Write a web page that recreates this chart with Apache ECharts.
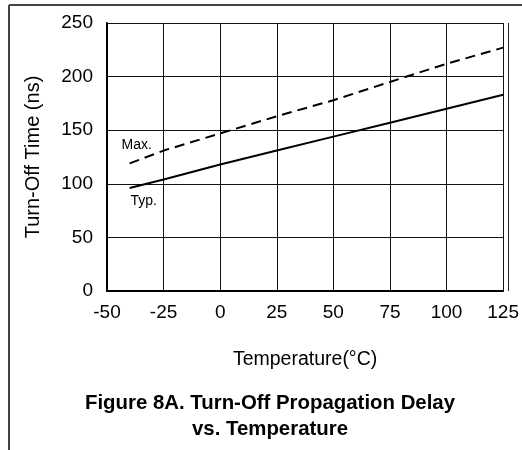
<!DOCTYPE html>
<html>
<head>
<meta charset="utf-8">
<script src="https://cdn.jsdelivr.net/npm/echarts@6/dist/echarts.min.js"></script>
<style>html,body{margin:0;padding:0;background:#fff;}#c{width:522px;height:450px;}</style>
</head>
<body>
<div id="c"></div>
<script>
var temps = [-40, -25, 0, 25, 50, 75, 100, 125];
var maxValues = [119, 131, 147, 163, 178, 195, 212, 227];
var typValues = [96, 104, 118, 131, 144, 157, 170, 183];
var xTicks = [-50, -25, 0, 25, 50, 75, 100, 125];
var yTicks = [0, 50, 100, 150, 200, 250];
var seriesNames = ['Max.', 'Typ.'];

var FONT = 'Liberation Sans, Arial, sans-serif';
function pairs(vals, name, offset) {
  return temps.map(function (t, i) {
    var d = { value: [t, vals[i]] };
    if (i === 0) {
      d.label = { show: true, formatter: name, position: 'inside', offset: offset,
        color: '#000', fontSize: 14, fontFamily: FONT };
    }
    return d;
  });
}
var chart = echarts.init(document.getElementById('c'), null, { renderer: 'canvas' });
chart.setOption({
  animation: false,
  backgroundColor: '#fff',
  title: {
    text: 'Figure 8A. Turn-Off Propagation Delay\nvs. Temperature',
    left: 265, top: 385, textAlign: 'center',
    textStyle: { fontFamily: FONT, fontWeight: 'bold', fontSize: 20.4, lineHeight: 26, color: '#000' }
  },
  grid: { left: 107, right: 14, top: 23, bottom: 159, containLabel: false },
  xAxis: {
    type: 'value', min: xTicks[0], max: xTicks[xTicks.length - 1], interval: 25,
    name: 'Temperature(\u00B0C)', nameLocation: 'middle', nameGap: 59,
    nameTextStyle: { fontFamily: FONT, fontSize: 19.5, color: '#000' },
    axisLine: { show: true, onZero: false, lineStyle: { color: '#000', width: 2 } },
    axisTick: { show: false },
    axisLabel: { margin: 12, fontFamily: FONT, fontSize: 19, color: '#000', showMaxLabel: true, showMinLabel: true },
    splitLine: { show: true, lineStyle: { color: '#111', width: 1 } }
  },
  yAxis: {
    type: 'value', min: yTicks[0], max: yTicks[yTicks.length - 1], interval: 50,
    name: 'Turn-Off Time (ns)', nameLocation: 'middle', nameGap: 64,
    nameTextStyle: { fontFamily: FONT, fontSize: 20, color: '#000' },
    axisLine: { show: true, onZero: false, lineStyle: { color: '#000', width: 2 } },
    axisTick: { show: false },
    axisLabel: { margin: 14, fontFamily: FONT, fontSize: 19, color: '#000' },
    splitLine: { show: true, lineStyle: { color: '#111', width: 1 } }
  },
  graphic: [
    { type: 'line', shape: { x1: 9, y1: 5, x2: 522, y2: 5 }, style: { stroke: '#444', lineWidth: 2 } },
    { type: 'line', shape: { x1: 9, y1: 5, x2: 9, y2: 450 }, style: { stroke: '#444', lineWidth: 2 } },
    { type: 'line', shape: { x1: 508.5, y1: 23, x2: 508.5, y2: 291 }, style: { stroke: '#222', lineWidth: 1 } }
  ],
  series: [
    {
      name: seriesNames[0], type: 'line', data: pairs(maxValues, seriesNames[0], [7, -18]),
      showSymbol: true, symbol: 'circle', symbolSize: 0, smooth: false,
      itemStyle: { color: '#000' },
      lineStyle: { color: '#000', width: 2, type: [10, 6] }, z: 5
    },
    {
      name: seriesNames[1], type: 'line', data: pairs(typValues, seriesNames[1], [14, 13]),
      showSymbol: true, symbol: 'circle', symbolSize: 0, smooth: false,
      itemStyle: { color: '#000' },
      lineStyle: { color: '#000', width: 2 }, z: 5
    }
  ]
});
</script>
</body>
</html>
